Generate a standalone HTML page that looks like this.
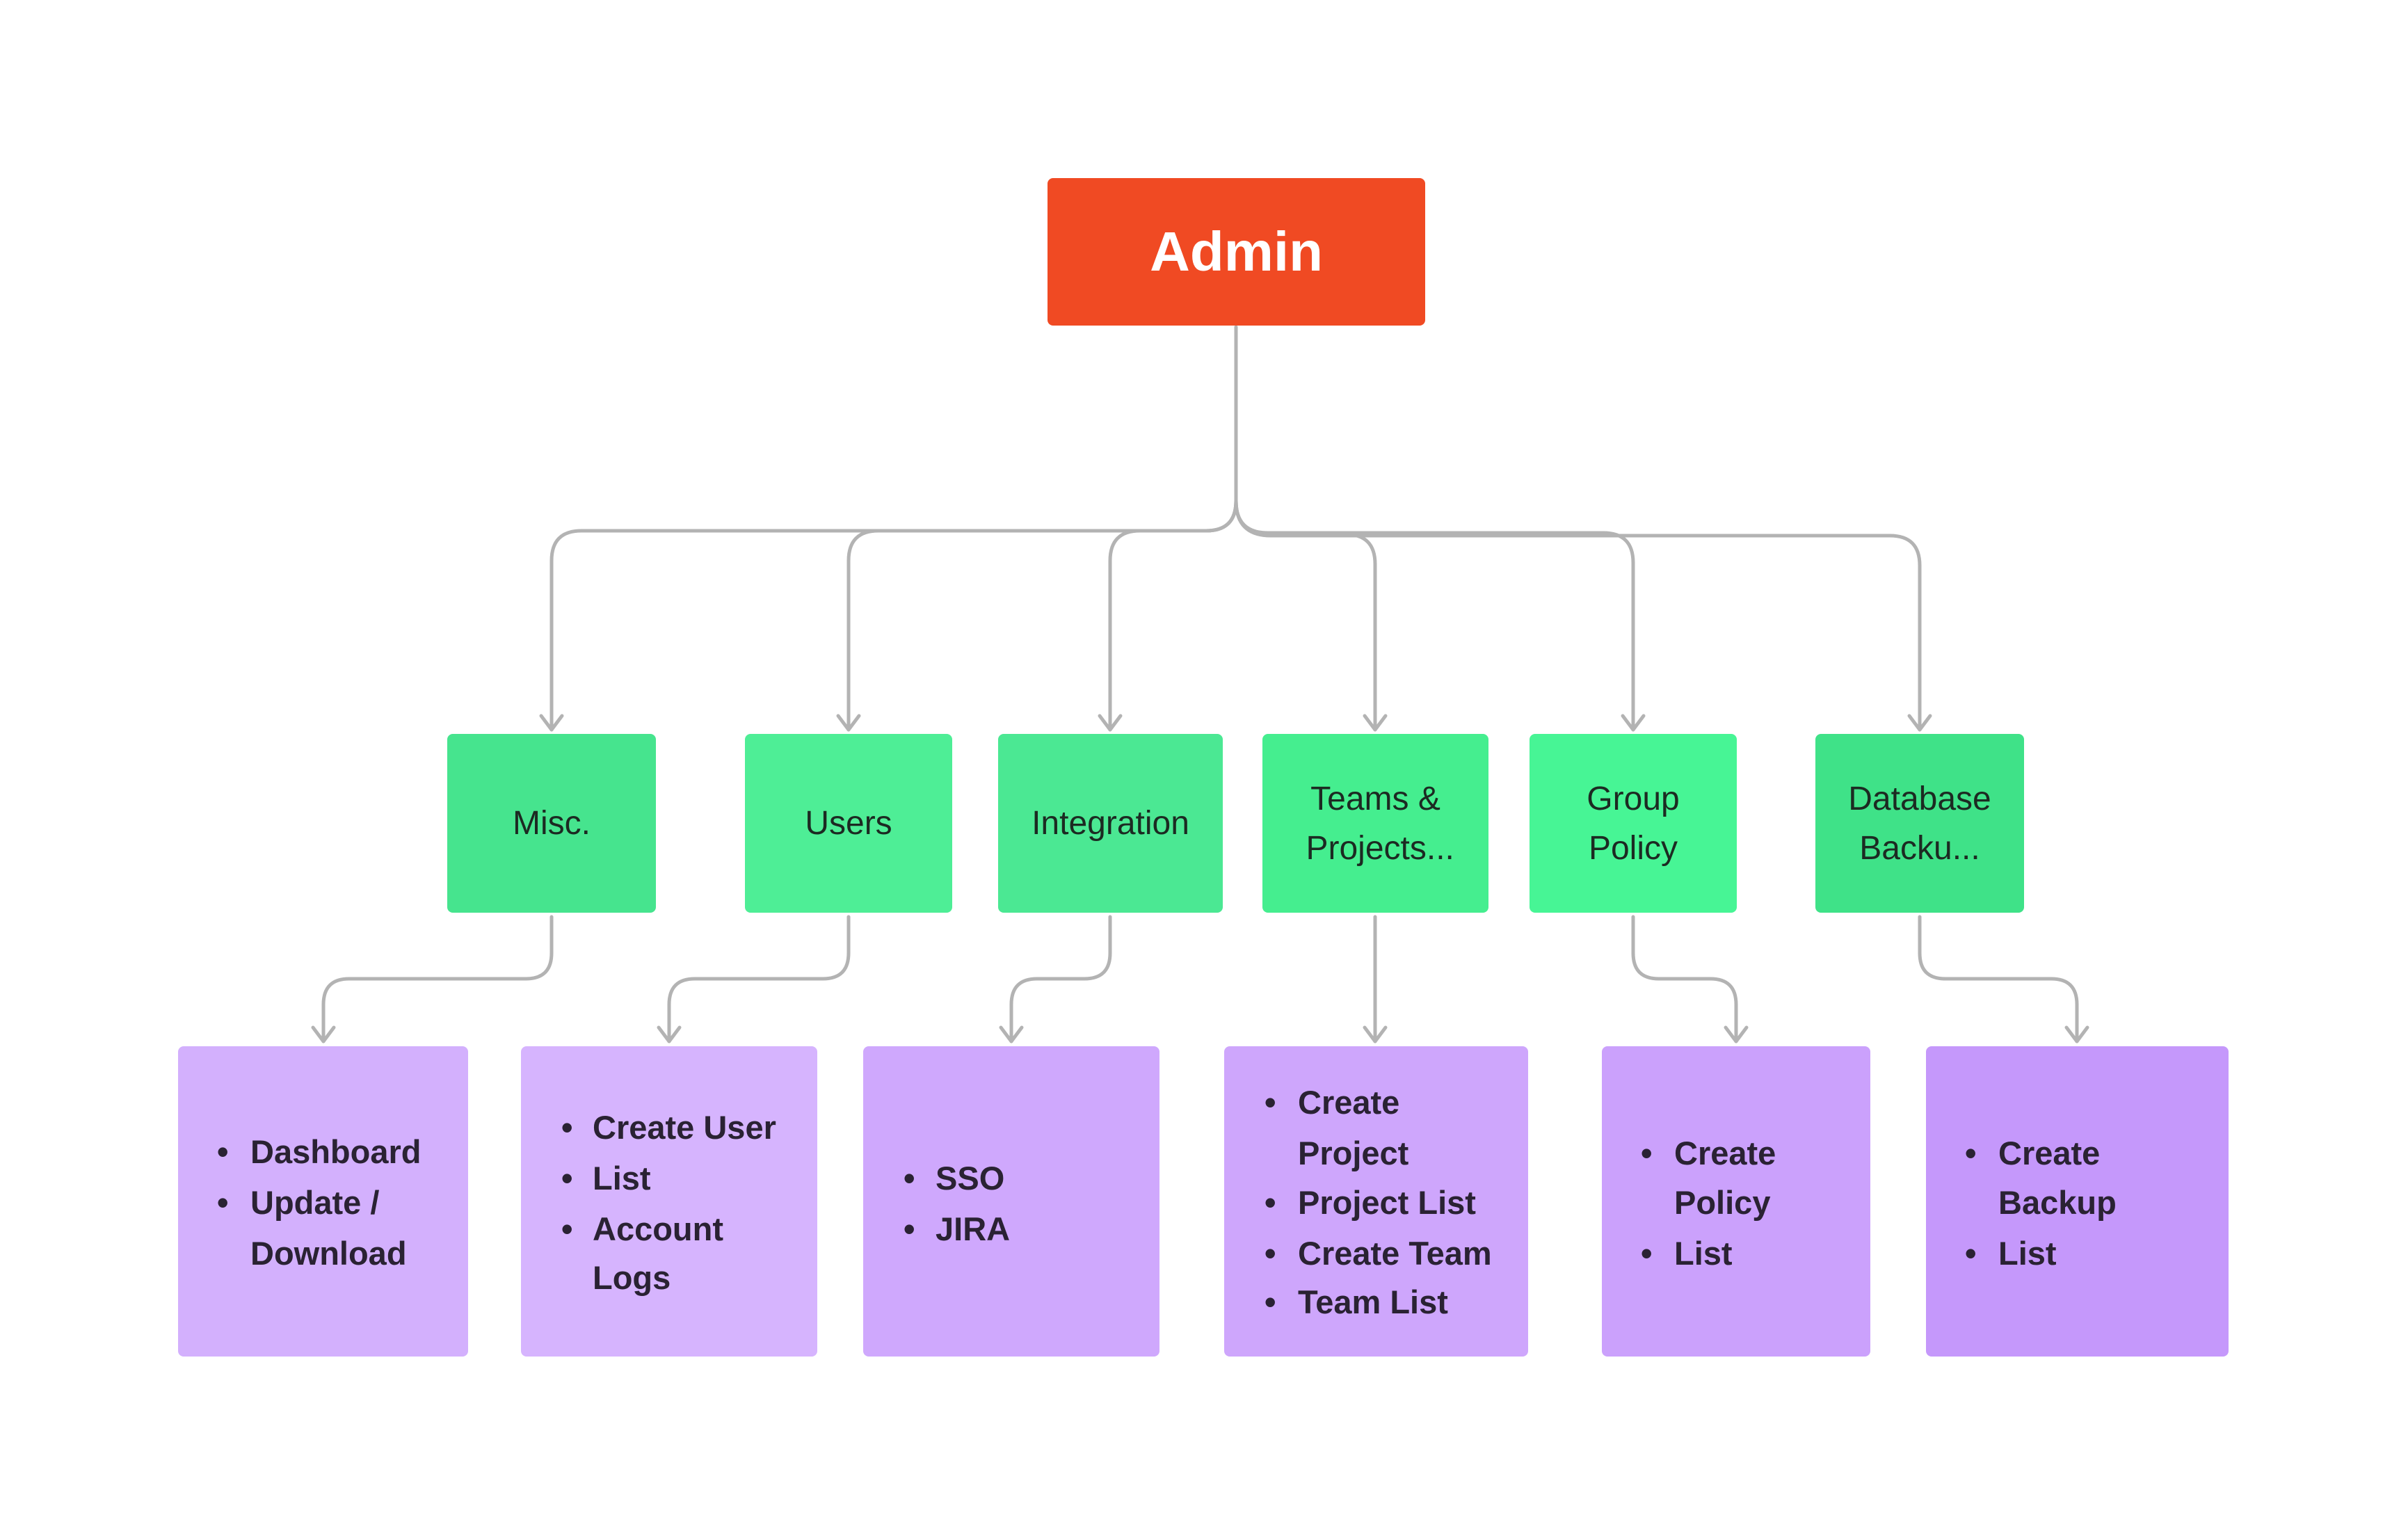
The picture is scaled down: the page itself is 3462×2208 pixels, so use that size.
<!DOCTYPE html>
<html><head><meta charset="utf-8"><style>
html,body{margin:0;padding:0;background:#fff;}
body{width:3462px;height:2208px;position:relative;overflow:hidden;font-family:"Liberation Sans",sans-serif;}
.b{position:absolute;border-radius:8px;}
.g{display:flex;flex-direction:column;align-items:center;justify-content:center;color:#1c2a22;font-size:48px;line-height:71px;text-align:center;}
.t{position:absolute;font-size:47px;font-weight:bold;color:#2a2233;line-height:72px;white-space:nowrap;}
svg{position:absolute;left:0;top:0;}
</style></head><body>
<svg width="3462" height="2208" viewBox="0 0 3462 2208" fill="none" stroke="#b3b3b3" stroke-width="5" stroke-linecap="round" stroke-linejoin="round">
<path d="M1777 470 V720 Q1777 763 1734 763 H836 Q793 763 793 806 V1049"/>
<path d="M1777 720 Q1777 763 1734 763 H1263 Q1220 763 1220 806 V1049"/>
<path d="M1777 720 Q1777 763 1734 763 H1639 Q1596 763 1596 806 V1049"/>
<path d="M1777 720 Q1777 768 1825 768 H1934 Q1977 768 1977 811 V1049"/>
<path d="M1777 720 Q1777 766 1823 766 H2305 Q2348 766 2348 809 V1049"/>
<path d="M1777 720 Q1777 770 1827 770 H2717 Q2760 770 2760 813 V1049"/>
<g>
<path d="M778 1029 L793 1049 L808 1029"/><path d="M1205 1029 L1220 1049 L1235 1029"/><path d="M1581 1029 L1596 1049 L1611 1029"/>
<path d="M1962 1029 L1977 1049 L1992 1029"/><path d="M2333 1029 L2348 1049 L2363 1029"/><path d="M2745 1029 L2760 1049 L2775 1029"/>
</g>
<path d="M793 1318 V1370 Q793 1407 756 1407 H502 Q465 1407 465 1444 V1497"/>
<path d="M1220 1318 V1370 Q1220 1407 1183 1407 H999 Q962 1407 962 1444 V1497"/>
<path d="M1596 1318 V1370 Q1596 1407 1559 1407 H1491 Q1454 1407 1454 1444 V1497"/>
<path d="M1977 1318 V1497"/>
<path d="M2348 1318 V1370 Q2348 1407 2385 1407 H2459 Q2496 1407 2496 1444 V1497"/>
<path d="M2760 1318 V1370 Q2760 1407 2797 1407 H2949 Q2986 1407 2986 1444 V1497"/>
<path d="M450 1477 L465 1497 L480 1477"/><path d="M947 1477 L962 1497 L977 1477"/><path d="M1439 1477 L1454 1497 L1469 1477"/>
<path d="M1962 1477 L1977 1497 L1992 1477"/><path d="M2481 1477 L2496 1497 L2511 1477"/><path d="M2971 1477 L2986 1497 L3001 1477"/>
</svg>

<div class="b" style="left:1506px;top:256px;width:543px;height:212px;background:#f04a23;display:flex;align-items:center;justify-content:center;color:#fff;font-weight:bold;font-size:80px;">Admin</div>

<div class="b g" style="left:643px;top:1055px;width:300px;height:257px;background:#46e48e;">Misc.</div>
<div class="b g" style="left:1071px;top:1055px;width:298px;height:257px;background:#4eee96;">Users</div>
<div class="b g" style="left:1435px;top:1055px;width:323px;height:257px;background:#4be893;">Integration</div>
<div class="b g" style="left:1815px;top:1055px;width:325px;height:257px;background:#45ee8f;"><div>Teams &amp;</div><div>&nbsp;Projects...</div></div>
<div class="b g" style="left:2199px;top:1055px;width:298px;height:257px;background:#47f595;"><div>Group</div><div>Policy</div></div>
<div class="b g" style="left:2610px;top:1055px;width:300px;height:257px;background:#3fe288;"><div>Database</div><div>Backu...</div></div>

<div class="b" style="left:256px;top:1504px;width:417px;height:446px;background:#d3b0fd;"></div>
<div class="b" style="left:749px;top:1504px;width:426px;height:446px;background:#d6b4fe;"></div>
<div class="b" style="left:1241px;top:1504px;width:426px;height:446px;background:#cfa8fd;"></div>
<div class="b" style="left:1760px;top:1504px;width:437px;height:446px;background:#cea6fc;"></div>
<div class="b" style="left:2303px;top:1504px;width:386px;height:446px;background:#cba1fc;"></div>
<div class="b" style="left:2769px;top:1504px;width:435px;height:446px;background:#c598fb;"></div>

<!-- box1 -->
<div class="t" style="left:312px;top:1620px;">•</div><div class="t" style="left:360px;top:1620px;">Dashboard</div>
<div class="t" style="left:312px;top:1693px;">•</div><div class="t" style="left:360px;top:1693px;">Update /</div>
<div class="t" style="left:360px;top:1766px;">Download</div>
<!-- box2 -->
<div class="t" style="left:807px;top:1585px;">•</div><div class="t" style="left:852px;top:1585px;">Create User</div>
<div class="t" style="left:807px;top:1658px;">•</div><div class="t" style="left:852px;top:1658px;">List</div>
<div class="t" style="left:807px;top:1731px;">•</div><div class="t" style="left:852px;top:1731px;">Account</div>
<div class="t" style="left:852px;top:1801px;">Logs</div>
<!-- box3 -->
<div class="t" style="left:1299px;top:1658px;">•</div><div class="t" style="left:1345px;top:1658px;">SSO</div>
<div class="t" style="left:1299px;top:1731px;">•</div><div class="t" style="left:1345px;top:1731px;">JIRA</div>
<!-- box4 -->
<div class="t" style="left:1818px;top:1549px;">•</div><div class="t" style="left:1866px;top:1549px;">Create</div>
<div class="t" style="left:1866px;top:1622px;">Project</div>
<div class="t" style="left:1818px;top:1693px;">•</div><div class="t" style="left:1866px;top:1693px;">Project List</div>
<div class="t" style="left:1818px;top:1766px;">•</div><div class="t" style="left:1866px;top:1766px;">Create Team</div>
<div class="t" style="left:1818px;top:1836px;">•</div><div class="t" style="left:1866px;top:1836px;">Team List</div>
<!-- box5 -->
<div class="t" style="left:2359px;top:1622px;">•</div><div class="t" style="left:2407px;top:1622px;">Create</div>
<div class="t" style="left:2407px;top:1693px;">Policy</div>
<div class="t" style="left:2359px;top:1766px;">•</div><div class="t" style="left:2407px;top:1766px;">List</div>
<!-- box6 -->
<div class="t" style="left:2825px;top:1622px;">•</div><div class="t" style="left:2873px;top:1622px;">Create</div>
<div class="t" style="left:2873px;top:1693px;">Backup</div>
<div class="t" style="left:2825px;top:1766px;">•</div><div class="t" style="left:2873px;top:1766px;">List</div>
</body></html>
